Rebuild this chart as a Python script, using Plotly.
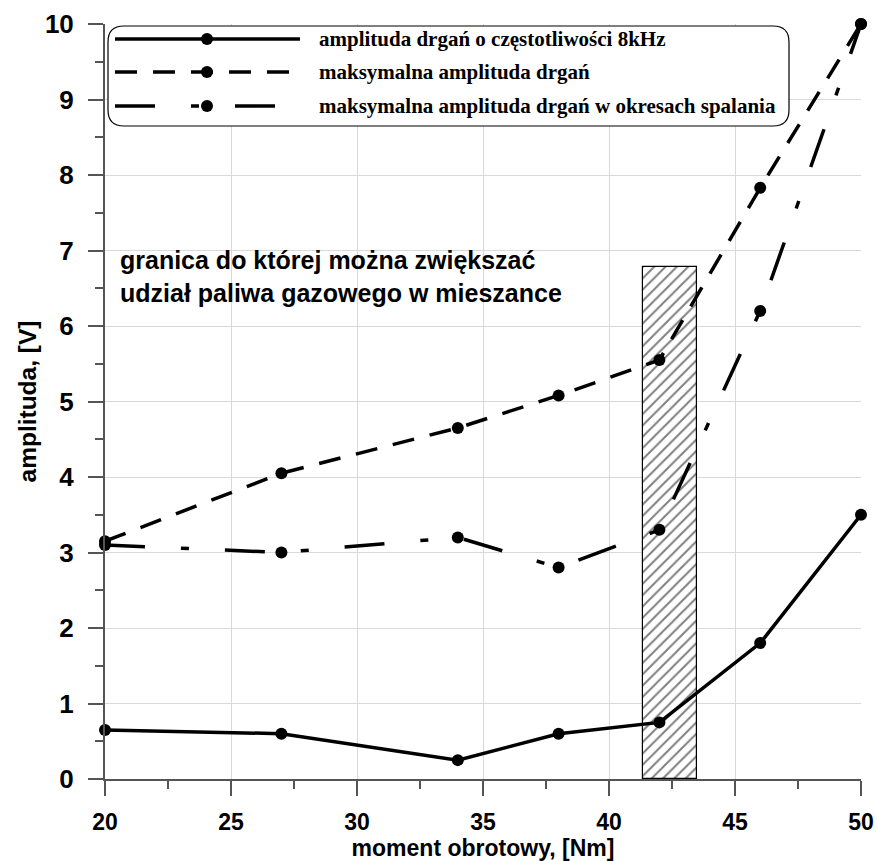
import plotly.graph_objects as go

# ---- data ----
moment = [20, 27, 34, 38, 42, 46, 50]
amp_8khz = [0.65, 0.60, 0.25, 0.60, 0.75, 1.80, 3.50]
amp_max = [3.15, 4.05, 4.65, 5.08, 5.55, 7.83, 10.0]
amp_spal = [3.10, 3.00, 3.20, 2.80, 3.30, 6.20, 10.0]

series_names = [
    "amplituda drgań o częstotliwości 8kHz",
    "maksymalna amplituda drgań",
    "maksymalna amplituda drgań w okresach spalania",
]

# hatched limit region
limit_x_left = 41.36
limit_x_right = 43.48
limit_top = 6.78
limit_label = "granica do której można zwiększać<br>udział paliwa gazowego w mieszance"

x_title = "moment obrotowy, [Nm]"
y_title = "amplituda, [V]"

# ---- styles ----
dashes = ["solid", "22px,16px", "40px,36px,8px,36px"]
LW = 3.5
MS = 12
SANS = "Liberation Sans"

fig = go.Figure()

fig.add_trace(go.Bar(
    x=[(limit_x_left + limit_x_right) / 2],
    y=[limit_top],
    width=[limit_x_right - limit_x_left],
    marker=dict(
        color="white",
        line=dict(color="black", width=1.2),
        pattern=dict(shape="/", fgcolor="black", bgcolor="white", size=8, solidity=0.25),
    ),
    showlegend=False,
    hoverinfo="skip",
))

for ys, name, dash in zip([amp_8khz, amp_max, amp_spal], series_names, dashes):
    fig.add_trace(go.Scatter(
        x=moment, y=ys, name=name, mode="lines+markers",
        line=dict(color="black", width=LW, dash=dash),
        marker=dict(color="black", size=MS),
        cliponaxis=False,
        showlegend=False,
    ))

# ---- plot geometry (pixels) ----
W, H = 877, 861
ML, MR, MT, MB = 105, 16, 24, 82
PW = W - ML - MR
PH = H - MT - MB


def px(x):
    return (x - ML) / PW


def py(y):
    return (H - MB - y) / PH


# rounded legend box
x0, x1, y0, y1 = px(108), px(789), py(126), py(26)
rx, ry = 16 / PW, 16 / PH
path = (
    f"M {x0+rx},{y1} L {x1-rx},{y1} Q {x1},{y1} {x1},{y1-ry} "
    f"L {x1},{y0+ry} Q {x1},{y0} {x1-rx},{y0} "
    f"L {x0+rx},{y0} Q {x0},{y0} {x0},{y0+ry} "
    f"L {x0},{y1-ry} Q {x0},{y1} {x0+rx},{y1} Z"
)
shapes = [dict(type="path", path=path, xref="paper", yref="paper",
               line=dict(color="black", width=1.2), fillcolor="white", layer="above")]
annotations = []
rows = [39, 72, 106]
for row, name, dash in zip(rows, series_names, dashes):
    shapes.append(dict(type="line", xref="paper", yref="paper",
                       x0=px(115), x1=px(300), y0=py(row), y1=py(row),
                       line=dict(color="black", width=LW, dash=dash), layer="above"))
    r = MS / 2
    shapes.append(dict(type="circle", xref="paper", yref="paper",
                       x0=px(207 - r), x1=px(207 + r), y0=py(row + r), y1=py(row - r),
                       fillcolor="black", line=dict(color="black", width=0), layer="above"))
    annotations.append(dict(text=name, xref="paper", yref="paper",
                            x=px(317), y=py(row), xanchor="left", yanchor="middle",
                            showarrow=False,
                            font=dict(family="Liberation Serif", size=21, color="black",
                                      weight="bold")))

annotations.append(dict(text=limit_label, x=20.5, y=7.08, xref="x", yref="y",
                        xanchor="left", yanchor="top", align="left", showarrow=False,
                        font=dict(family=SANS, size=25, color="black", weight="bold")))

axis_common = dict(
    showline=True, linecolor="#555555", linewidth=2,
    ticks="outside", ticklen=15, tickwidth=1.5, tickcolor="#555555",
    showgrid=True, gridcolor="#d9d9d9", gridwidth=1,
    zeroline=False,
)

fig.update_layout(
    width=W, height=H,
    margin=dict(l=ML, r=MR, t=MT, b=MB, autoexpand=False),
    paper_bgcolor="white", plot_bgcolor="white",
    bargap=0,
    xaxis=dict(
        range=[20, 50], dtick=5, tick0=20,
        minor=dict(dtick=2.5, ticks="outside", ticklen=8, tickcolor="#555555", showgrid=False),
        tickfont=dict(family=SANS, size=23, color="black", weight="bold"),
        ticklabelstandoff=6,
        title=dict(text=x_title, standoff=10,
                   font=dict(family=SANS, size=23, color="black", weight="bold")),
        **axis_common,
    ),
    yaxis=dict(
        range=[0, 10], dtick=1, tick0=0,
        minor=dict(dtick=0.5, ticks="outside", ticklen=8, tickcolor="#555555", showgrid=False),
        tickfont=dict(family=SANS, size=26, color="black", weight="bold"),
        ticklabelstandoff=9,
        title=dict(text=y_title, standoff=1,
                   font=dict(family=SANS, size=24.5, color="black", weight="bold")),
        **axis_common,
    ),
    shapes=shapes,
    annotations=annotations,
    showlegend=False,
)

fig.write_html("out.html")
